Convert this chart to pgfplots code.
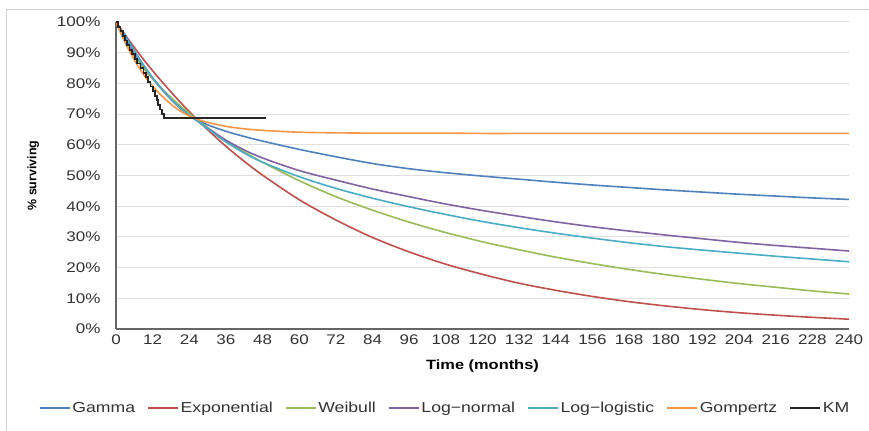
\documentclass[border=0pt]{standalone}
\usepackage{fontspec}
\setmainfont[FakeStretch=1.22]{Liberation Sans}
\newfontfamily\ylabfont{Liberation Sans}
\usepackage{pgfplots}
\usepackage{pgfplotstable}
\pgfplotsset{compat=1.18}
\definecolor{cgam}{HTML}{4F81BD}
\definecolor{cexp}{HTML}{C0504D}
\definecolor{cwei}{HTML}{9BBB59}
\definecolor{clno}{HTML}{8064A2}
\definecolor{cllo}{HTML}{4BACC6}
\definecolor{cgom}{HTML}{F79646}
\pgfplotstableread{
t    gam   expo  weib  lnorm llog  gomp
0    100   100   100   100   100   100
3    94.6  95.8  93.4  95.6  95.3  93.3
6    89.6  91.7  88.8  90.6  90.3  87.6
9    85.4  87.8  84.9  86.0  85.8  82.9
12   81.6  84.1  81.5  81.8  81.7  79.1
15   78.2  80.6  78.3  78.1  78.0  75.9
18   75.2  77.2  75.4  74.8  74.8  73.2
21   72.5  73.9  72.7  71.9  71.9  71.0
24   70.1  70.8  70.2  69.6  69.6  69.4
27   68.0  67.8  67.8  67.5  67.5  68.2
30   66.5  64.9  65.6  65.4  65.2  67.3
36   64.4  59.5  61.4  61.5  60.9  66.0
42   62.7  54.6  57.7  58.3  57.3  65.2
48   61.2  50.1  54.3  55.7  54.3  64.7
60   58.5  42.1  48.3  51.6  49.6  64.1
72   56.1  35.5  43.1  48.5  45.8  63.9
84   53.9  29.8  38.7  45.6  42.6  63.8
96   52.2  25.1  34.8  43.1  39.8  63.8
108  50.9  21.1  31.4  40.7  37.3  63.8
120  49.8  17.8  28.4  38.6  35.0  63.7
132  48.8  14.9  25.8  36.7  33.0  63.7
144  47.8  12.6  23.4  34.9  31.2  63.7
156  46.9  10.6  21.3  33.3  29.6  63.7
168  46.1  8.9   19.4  31.9  28.1  63.7
180  45.3  7.5   17.7  30.6  26.8  63.7
192  44.6  6.3   16.2  29.4  25.7  63.7
204  43.9  5.3   14.8  28.2  24.7  63.7
216  43.3  4.5   13.6  27.2  23.7  63.7
228  42.7  3.8   12.4  26.3  22.8  63.7
240  42.2  3.2   11.4  25.4  21.9  63.7
}\survdata
\pgfplotstableread{
t    km
0    100
0.7  98.5
1.5  97
2.3  95.5
3.0  94
3.6  92.5
4.4  91
5.3  89.5
6.2  88
7.0  86.5
8.0  85
9.0  83.5
9.8  82
10.5 80.5
11.3 79
12.0 77.5
12.7 76
13.3 74.5
13.8 73
14.3 71.5
15.0 70
15.6 68.8
49   68.8
}\kmdata
\begin{document}
\begin{tikzpicture}
\useasboundingbox (0bp,0bp) rectangle (869bp,431bp);
\fill[white] (0bp,0bp) rectangle (869bp,431bp);
\draw[black!18, line width=1bp] (6bp,0bp) -- (6bp,421bp) -- (869bp,421bp);
\begin{axis}[
  at={(116bp,102bp)}, anchor=south west,
  scale only axis, width=733bp, height=307bp,
  xmin=0, xmax=240, ymin=0, ymax=100,
  xtick={0,12,...,240}, ytick={0,10,...,100},
  yticklabel={\pgfmathprintnumber{\tick}\%},
  /pgf/number format/assume math mode=true,
  axis x line=bottom, axis y line=left,
  axis line style={-, draw=black!60, line width=1.3bp},
  ymajorgrids, grid style={draw=black!12, line width=1bp},
  major tick length=0pt,
  tick label style={font=\fontsize{14}{16}\selectfont, text=black!80},
  xticklabel style={yshift=-2bp},
  yticklabel style={xshift=-12bp},
  xlabel={Time (months)},
  xlabel style={font=\bfseries\fontsize{13.5}{15}\selectfont, at={(axis description cs:0.5,-0.12)}, anchor=center},
  ylabel={\% surviving},
  ylabel style={font=\ylabfont\bfseries\fontsize{12.5}{14}\selectfont, at={(axis description cs:-0.113,0.5)}, anchor=center},
  every axis plot/.append style={line width=1.6bp, no markers},
  legend style={at={(axis description cs:0.449,-0.257)}, anchor=center, draw=none, fill=none,
    font=\fontsize{14.5}{17}\selectfont, text=black!80,
    /tikz/every even column/.append style={column sep=10bp}},
  legend columns=-1,
  legend image code/.code={\draw[#1] (0bp,0bp) -- (30bp,0bp);},
]
\addplot[cgam, smooth] table[x=t, y=gam] {\survdata};
\addlegendentry{Gamma}
\addplot[cexp, smooth] table[x=t, y=expo] {\survdata};
\addlegendentry{Exponential}
\addplot[cwei, smooth] table[x=t, y=weib] {\survdata};
\addlegendentry{Weibull}
\addplot[clno, smooth] table[x=t, y=lnorm] {\survdata};
\addlegendentry{Log−normal}
\addplot[cllo, smooth] table[x=t, y=llog] {\survdata};
\addlegendentry{Log−logistic}
\addplot[cgom, smooth] table[x=t, y=gomp] {\survdata};
\addlegendentry{Gompertz}
\addplot[black!85, const plot, line width=1.8bp] table[x=t, y=km] {\kmdata};
\addlegendentry{KM}
\end{axis}
\end{tikzpicture}
\end{document}
